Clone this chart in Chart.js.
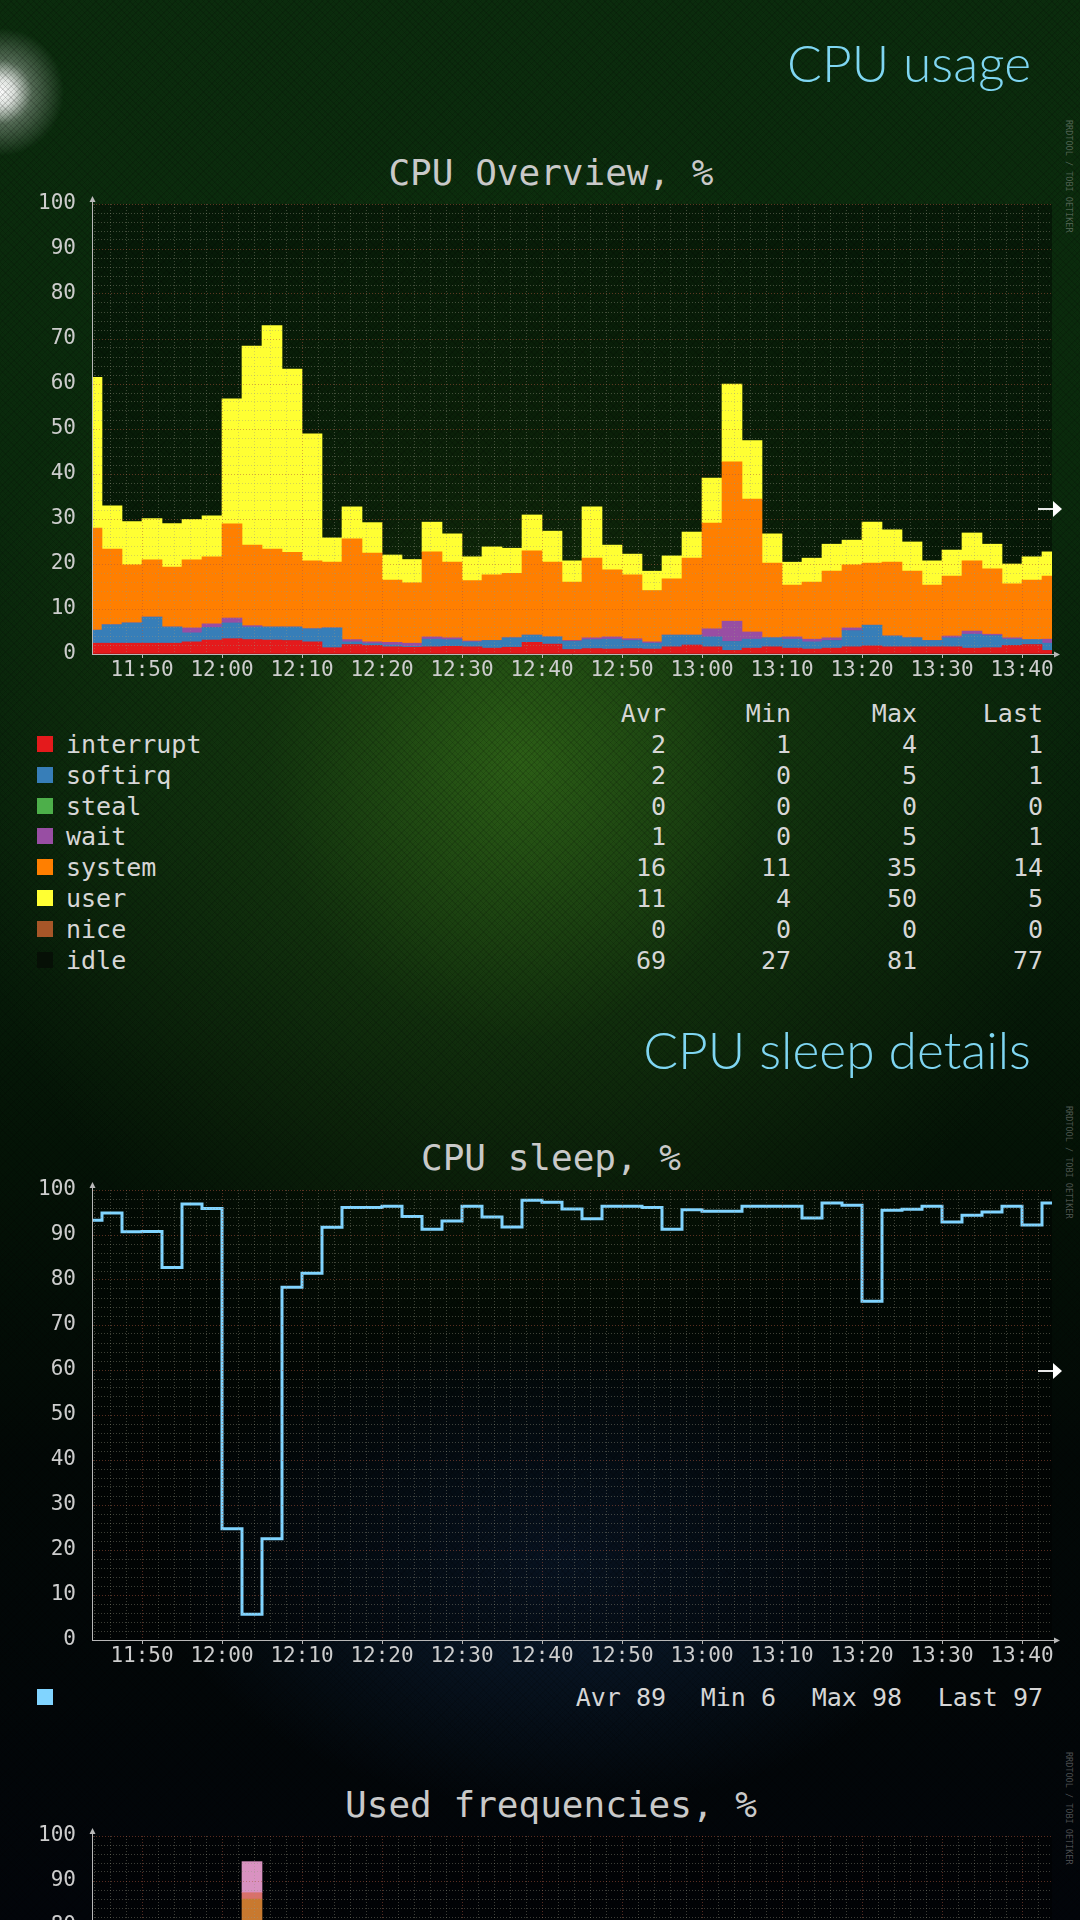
<!DOCTYPE html>
<html>
<head>
<meta charset="utf-8">
<script src="https://cdn.jsdelivr.net/npm/chart.js@4.4.1/dist/chart.umd.min.js"></script>
<style>
  html, body { margin: 0; padding: 0; }
  body {
    width: 1080px; height: 1920px; overflow: hidden; position: relative;
    font-family: 'DejaVu Sans Mono', monospace;
    background:
      radial-gradient(circle at 0px 92px, rgba(255,255,255,1) 0px, rgba(255,255,255,0.85) 14px, rgba(255,255,255,0.3) 32px, rgba(255,255,255,0) 64px),
      radial-gradient(ellipse 560px 620px at 520px 760px, rgba(50,104,24,0.85) 0%, rgba(30,72,18,0.45) 45%, rgba(0,0,0,0) 100%),
      radial-gradient(ellipse 540px 330px at 560px 1560px, rgba(20,48,90,0.55) 0%, rgba(0,0,0,0) 75%),
      linear-gradient(180deg, #0b2c0d 0%, #0a2a0c 25%, #08220a 42%, #041306 60%, #020806 76%, #02050a 100%);
  }
  .texture {
    position: absolute; left: 0; top: 0; width: 1080px; height: 1920px; pointer-events: none;
    background:
      repeating-linear-gradient(45deg, rgba(0,0,0,0.13) 0px, rgba(0,0,0,0.13) 1px, rgba(0,0,0,0) 1px, rgba(0,0,0,0) 4px),
      repeating-linear-gradient(-45deg, rgba(0,0,0,0.13) 0px, rgba(0,0,0,0.13) 1px, rgba(0,0,0,0) 1px, rgba(0,0,0,0) 4px);
  }
  .section {
    position: absolute; right: 49px; font-family: 'Lato', 'Open Sans', sans-serif; font-weight: 300;
    font-size: 51.5px; line-height: 60px; color: #7fd6f2;
  }
  .title {
    position: absolute; left: 0; width: 1102px; text-align: center;
    font-size: 36px; line-height: 40px; color: #c9c9c9;
  }
  .box { position: absolute; left: 0; width: 1080px; }
  .mark { position: absolute; font-size: 8.5px; color: rgba(190,190,190,0.4); writing-mode: vertical-rl; left: 1064px; }
  .arrow { position: absolute; left: 1038px; width: 24px; height: 18px; }
  .arrow .stem { position: absolute; left: 0; top: 8px; width: 15px; height: 2px; background: #e8e8e8; }
  .arrow .head { position: absolute; left: 15px; top: 1px; width: 0; height: 0;
    border-left: 9px solid #ffffff; border-top: 8px solid transparent; border-bottom: 8px solid transparent; }
  .row { position: absolute; left: 0; width: 1080px; height: 31px; line-height: 31px; font-size: 25px; color: #d6d6d6; white-space: pre; }
  .row .sw { position: absolute; left: 37px; top: 7px; width: 16px; height: 16px; }
  .row .nm { position: absolute; left: 66px; }
  .row .c { position: absolute; text-align: right; }
</style>
</head>
<body>
<div class="texture"></div>

<div class="section" style="top:32px;">CPU usage</div>
<div class="title" style="top:153px;">CPU Overview, %</div>
<div class="mark" style="top:120px;">RRDTOOL / TOBI OETIKER</div>
<div class="box" style="top:183px; height:510px;"><canvas id="overviewChart"></canvas></div>
<div class="arrow" style="top:500px;"><div class="stem"></div><div class="head"></div></div>
<div id="overviewLegend"></div>

<div class="section" style="top:1019px;">CPU sleep details</div>
<div class="title" style="top:1138px;">CPU sleep, %</div>
<div class="mark" style="top:1106px;">RRDTOOL / TOBI OETIKER</div>
<div class="box" style="top:1169px; height:510px;"><canvas id="sleepChart"></canvas></div>
<div class="arrow" style="top:1362px;"><div class="stem"></div><div class="head"></div></div>
<div id="sleepLegend"></div>

<div class="title" style="top:1785px;">Used frequencies, %</div>
<div class="mark" style="top:1752px;">RRDTOOL / TOBI OETIKER</div>
<div class="box" style="top:1815px; height:510px;"><canvas id="freqChart"></canvas></div>

<script>
// Trục thời gian: mỗi mẫu 2.5 phút, mẫu đầu lúc 11:43:45 (tính bằng phút trong ngày)
const timeLabels = ['11:50', '12:00', '12:10', '12:20', '12:30', '12:40', '12:50', '13:00', '13:10', '13:20', '13:30', '13:40'];
const firstSlotMin = 703.75;
const slotStep = 2.5;

// CPU Overview, % (xếp chồng từ dưới lên)
const cpuInterrupt = [2.4, 2.4, 2.4, 2.4, 2.4, 2.7, 3.1, 3.4, 3.2, 3.1, 3.0, 2.7, 1.4, 2.1, 1.9, 1.6, 1.5, 1.6, 1.7, 1.6, 1.3, 1.5, 2.6, 2.2, 1.0, 1.2, 1.1, 1.2, 1.1, 1.6, 2.0, 1.6, 0.8, 1.3, 1.6, 1.3, 1.1, 1.3, 1.6, 1.8, 1.6, 1.6, 1.6, 1.6, 1.3, 1.4, 1.9, 2.1, 0.8];
const cpuSoftirq   = [2.9, 4.1, 4.5, 5.8, 3.6, 2.0, 2.8, 3.5, 2.8, 2.9, 3.0, 2.9, 4.4, 0.6, 0.4, 0.4, 0.2, 1.7, 1.5, 1.1, 1.7, 2.1, 1.6, 1.6, 1.8, 2.0, 2.2, 1.8, 1.3, 2.6, 2.2, 2.2, 2.0, 2.0, 2.0, 2.0, 1.6, 1.7, 3.6, 4.6, 2.4, 2.0, 1.4, 2.0, 3.1, 2.7, 1.4, 1.1, 1.6];
const cpuWait      = [0, 0, 0, 0, 0, 1.1, 0.8, 1.1, 0.3, 0, 0, 0, 0, 0.5, 0.4, 0.6, 0.7, 0.5, 0.4, 0.2, 0, 0, 0, 0, 0.2, 0.4, 0.5, 0.4, 0.3, 0, 0, 1.8, 4.5, 1.6, 0, 0.5, 0.6, 0.6, 0.6, 0, 0, 0, 0, 0.4, 0.7, 0.3, 0.3, 0, 0.9];
const cpuSystem    = [22.7, 16.8, 12.9, 12.7, 13.3, 15.1, 14.9, 20.9, 17.9, 17.3, 16.6, 15.1, 14.6, 22.4, 19.7, 13.8, 13.4, 18.9, 16.8, 13.4, 14.6, 14.3, 18.7, 16.6, 13.0, 17.7, 14.9, 14.2, 11.4, 12.5, 17.1, 23.5, 35.4, 29.5, 16.6, 11.5, 12.7, 14.8, 14.0, 13.8, 16.4, 14.8, 12.3, 13.3, 15.6, 14.5, 12.0, 13.2, 14.0];
const cpuUser      = [33.5, 9.6, 9.6, 9.2, 9.7, 9.0, 9.1, 27.8, 44.2, 49.7, 40.7, 28.2, 5.4, 7.1, 6.8, 5.6, 5.2, 6.6, 6.3, 5.3, 6.2, 5.6, 8.0, 6.9, 4.7, 11.4, 5.5, 4.6, 4.3, 5.1, 5.8, 10.0, 17.3, 13.0, 6.5, 5.1, 5.3, 6.0, 5.5, 9.1, 7.2, 6.5, 5.4, 5.8, 6.2, 5.5, 4.4, 5.2, 5.4];

// Bảng chú giải CPU Overview
const legendNames  = ['interrupt', 'softirq', 'steal', 'wait', 'system', 'user', 'nice', 'idle'];
const legendColors = ['#e41a1c', '#377eb8', '#4daf4a', '#984ea3', '#ff7f00', '#ffff33', '#a65628', '#061006'];
const legendAvr    = [2, 2, 0, 1, 16, 11, 0, 69];
const legendMin    = [1, 0, 0, 0, 11, 4, 0, 27];
const legendMax    = [4, 5, 0, 5, 35, 50, 0, 81];
const legendLast   = [1, 1, 0, 1, 14, 5, 0, 77];

// CPU sleep, %
const cpuSleep = [93.3, 94.9, 90.7, 90.8, 82.8, 96.9, 95.9, 24.7, 5.7, 22.5, 78.4, 81.5, 91.7, 96.1, 96.1, 96.4, 94.1, 91.3, 93.1, 96.4, 94.0, 91.8, 97.7, 97.3, 95.8, 93.6, 96.4, 96.4, 96.1, 91.3, 95.6, 95.3, 95.3, 96.4, 96.4, 96.4, 93.8, 97.1, 96.6, 75.3, 95.5, 95.7, 96.4, 92.9, 94.4, 95.1, 96.4, 92.2, 97.1];
const sleepStats = ['Avr 89', 'Min 6', 'Max 98', 'Last 97'];

// Used frequencies, % (chỉ phần nhìn thấy được ở mép dưới ảnh)
const freqSlots = [8];
const freqLow   = [86.0];
const freqMid   = [1.4];
const freqHigh  = [6.9];

const toMin = function(s) { const p = s.split(':'); return +p[0] * 60 + +p[1]; };
const slotTimes = cpuUser.map(function(_, i) { return firstSlotMin + i * slotStep; });
const tickValues = timeLabels.map(toMin);

const minorX = [];
for (let m = 704; m <= 822; m += 2) { if (m % 10 !== 0) minorX.push(m); }
const minorY = [];
for (let v = 2; v < 100; v += 2) { if (v % 10 !== 0) minorY.push(v); }

const tickColor = '#cdcdcd';
const axisColor = '#b8b8b8';
const majorGrid = 'rgba(175, 85, 60, 0.5)';
const minorGrid = 'rgba(150, 150, 130, 0.4)';
const monoFont = { family: "'DejaVu Sans Mono', monospace", size: 21 };

function points(values, times) {
    return values.map(function(v, i) { return { x: times[i], y: v }; });
}

// Nền vùng vẽ + mũi tên ở đầu trục
const plotFrame = {
    id: 'plotFrame',
    beforeDraw(chart) {
        const a = chart.chartArea;
        const ctx = chart.ctx;
        ctx.save();
        ctx.fillStyle = 'rgba(0, 0, 0, 0.38)';
        ctx.fillRect(a.left, a.top, a.right - a.left, a.bottom - a.top);
        ctx.restore();
    },
    afterDraw(chart) {
        const a = chart.chartArea;
        const ctx = chart.ctx;
        const x0 = Math.round(a.left) + 0.5;
        const y0 = Math.round(a.bottom) + 0.5;
        ctx.save();
        ctx.strokeStyle = axisColor;
        ctx.fillStyle = axisColor;
        ctx.lineWidth = 1;
        ctx.beginPath();
        ctx.moveTo(x0, a.top); ctx.lineTo(x0, a.top - 4);
        ctx.moveTo(a.right, y0); ctx.lineTo(a.right + 4, y0);
        ctx.stroke();
        ctx.beginPath();
        ctx.moveTo(x0, a.top - 8); ctx.lineTo(x0 - 3, a.top - 2); ctx.lineTo(x0 + 3, a.top - 2);
        ctx.closePath(); ctx.fill();
        ctx.beginPath();
        ctx.moveTo(a.right + 8, y0); ctx.lineTo(a.right + 2, y0 - 3); ctx.lineTo(a.right + 2, y0 + 3);
        ctx.closePath(); ctx.fill();
        ctx.restore();
    }
};

function makeOptions() {
    return {
        responsive: true,
        maintainAspectRatio: false,
        animation: false,
        events: [],
        layout: { padding: { top: 21, right: 28, bottom: 0, left: 0 } },
        plugins: { legend: { display: false }, tooltip: { enabled: false } },
        scales: {
            x: {
                type: 'linear',
                stacked: true,
                offset: false,
                min: slotTimes[0],
                max: slotTimes[slotTimes.length - 1],
                afterBuildTicks: function(s) { s.ticks = tickValues.map(function(v) { return { value: v }; }); },
                afterFit: function(s) { s.height = 39; s.paddingLeft = 0; s.paddingRight = 0; },
                ticks: {
                    color: tickColor, font: monoFont, padding: 0, maxRotation: 0, autoSkip: false,
                    callback: function(value, index) { return timeLabels[index]; }
                },
                grid: { offset: false, color: majorGrid, z: 1, drawTicks: true, tickLength: 4, tickColor: axisColor },
                border: { color: axisColor, dash: [1, 2], z: 2 }
            },
            x2: {
                type: 'linear',
                position: 'bottom',
                offset: false,
                min: slotTimes[0],
                max: slotTimes[slotTimes.length - 1],
                afterBuildTicks: function(s) { s.ticks = minorX.map(function(v) { return { value: v }; }); },
                afterFit: function(s) { s.height = 0; s.paddingLeft = 0; s.paddingRight = 0; },
                ticks: { display: false },
                grid: { offset: false, color: minorGrid, z: 1, drawTicks: false },
                border: { display: false, dash: [1, 2] }
            },
            y: {
                stacked: true,
                min: 0,
                max: 100,
                afterFit: function(s) { s.width = 92; s.paddingTop = 0; s.paddingBottom = 0; },
                ticks: { stepSize: 10, color: tickColor, font: monoFont, padding: 16 },
                grid: { color: majorGrid, z: 1, drawTicks: false },
                border: { color: axisColor, dash: [1, 2], z: 2 }
            },
            y2: {
                position: 'left',
                min: 0,
                max: 100,
                afterBuildTicks: function(s) { s.ticks = minorY.map(function(v) { return { value: v }; }); },
                afterFit: function(s) { s.width = 0; s.paddingTop = 0; s.paddingBottom = 0; },
                ticks: { display: false },
                grid: { color: minorGrid, z: 1, drawTicks: false },
                border: { display: false, dash: [1, 2] }
            }
        }
    };
}

function barSet(label, values, times, color) {
    return {
        label: label,
        data: points(values, times),
        backgroundColor: color,
        borderWidth: 0,
        barPercentage: 1,
        categoryPercentage: 1,
        xAxisID: 'x',
        yAxisID: 'y'
    };
}

document.addEventListener('DOMContentLoaded', function() {
    // Biểu đồ CPU Overview
    new Chart(document.getElementById('overviewChart'), {
        type: 'bar',
        data: {
            datasets: [
                barSet('interrupt', cpuInterrupt, slotTimes, legendColors[0]),
                barSet('softirq', cpuSoftirq, slotTimes, legendColors[1]),
                barSet('wait', cpuWait, slotTimes, legendColors[3]),
                barSet('system', cpuSystem, slotTimes, legendColors[4]),
                barSet('user', cpuUser, slotTimes, legendColors[5])
            ]
        },
        options: makeOptions(),
        plugins: [plotFrame]
    });

    // Biểu đồ CPU sleep (đường bậc thang)
    const sleepOptions = makeOptions();
    sleepOptions.scales.x.stacked = false;
    sleepOptions.scales.y.stacked = false;
    new Chart(document.getElementById('sleepChart'), {
        type: 'line',
        data: {
            datasets: [{
                label: 'sleep',
                data: points(cpuSleep, slotTimes),
                borderColor: '#80d4ff',
                borderWidth: 3,
                pointRadius: 0,
                fill: false,
                stepped: 'middle',
                xAxisID: 'x',
                yAxisID: 'y'
            }]
        },
        options: sleepOptions,
        plugins: [plotFrame]
    });

    // Biểu đồ Used frequencies
    const freqTimes = freqSlots.map(function(k) { return slotTimes[k]; });
    const freqSets = [
        barSet('low', freqLow, freqTimes, '#c8792f'),
        barSet('mid', freqMid, freqTimes, '#d8716a'),
        barSet('high', freqHigh, freqTimes, '#d992c1')
    ];
    freqSets.forEach(function(d) { d.barThickness = 20; });
    new Chart(document.getElementById('freqChart'), {
        type: 'bar',
        data: { datasets: freqSets },
        options: makeOptions(),
        plugins: [plotFrame]
    });

    // Bảng chú giải
    const addRow = function(parent, top, color, name, cells, rights) {
        const row = document.createElement('div');
        row.className = 'row';
        row.style.top = top + 'px';
        let html = '';
        if (color) html += '<span class="sw" style="background:' + color + '"></span>';
        if (name) html += '<span class="nm">' + name + '</span>';
        cells.forEach(function(c, i) {
            html += '<span class="c" style="right:' + rights[i] + 'px">' + c + '</span>';
        });
        row.innerHTML = html;
        parent.appendChild(row);
    };
    const legendBox = document.getElementById('overviewLegend');
    const colRights = [414, 289, 163, 37];
    addRow(legendBox, 698, null, null, ['Avr', 'Min', 'Max', 'Last'], colRights);
    legendNames.forEach(function(name, i) {
        addRow(legendBox, 729 + i * 30.8, legendColors[i], name,
            [legendAvr[i], legendMin[i], legendMax[i], legendLast[i]], colRights);
    });

    addRow(document.getElementById('sleepLegend'), 1682, '#80d4ff', null, sleepStats, [414, 304, 178, 37]);
});
</script>
</body>
</html>
